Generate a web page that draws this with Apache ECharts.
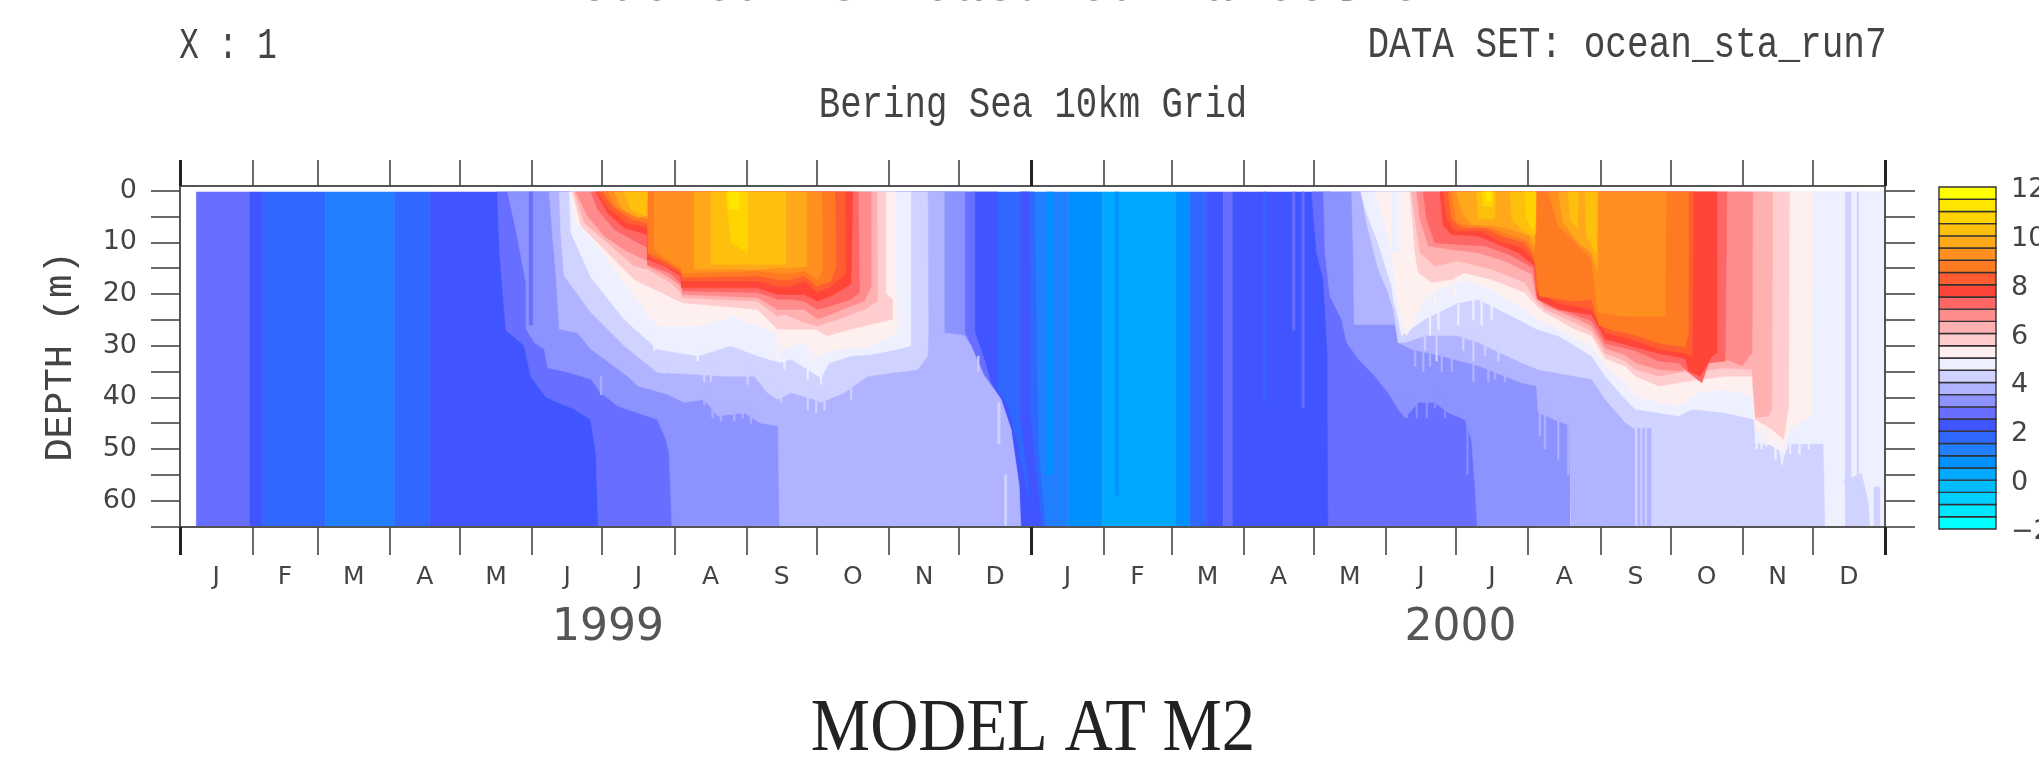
<!DOCTYPE html>
<html><head><meta charset="utf-8">
<style>html,body{margin:0;padding:0;background:#fff}#c{width:2039px;height:762px}</style>
<script src="https://cdn.jsdelivr.net/npm/echarts@6/dist/echarts.min.js"></script>
</head><body><div id="c"></div>
<script>
// x = day counted from 1 Jan 1999, y = depth (m), values = lower bound of the 0.5 degree colour bin
const monthLetters = ['J','F','M','A','M','J','J','A','S','O','N','D','J','F','M','A','M','J','J','A','S','O','N','D'];
const monthStarts = [0,31,59,90,120,151,181,212,243,273,304,334,365,396,425,456,486,517,547,578,609,639,670,700,731];
const yearLabels = ['1999','2000'];
const yearCentres = [183.5,549];
const yearTicks = [0,365,731];
const depthTicks = [0,5,10,15,20,25,30,35,40,45,50,55,60,65];
const depthLabels = [0,10,20,30,40,50,60];
const legendLevels = [-2,-1.5,-1,-.5,0,.5,1,1.5,2,2.5,3,3.5,4,4.5,5,5.5,6,6.5,7,7.5,8,8.5,9,9.5,10,10.5,11,11.5];
const legendTicks = [-2,0,2,4,6,8,10,12];
const legendColors = ['#00ffff','#00e8ff','#00d0ff','#00bcff','#00a8ff','#0090ff','#2080ff','#3068ff','#4055ff','#686eff','#8c93ff','#b0b3ff','#d0d2ff','#eef0ff','#fff0f0','#ffcdcd','#ffb0b0','#ff8c8c','#ff6666','#ff4438','#ff5c30','#ff7b22','#ff9020','#ffa91a','#ffbf0d','#ffd400','#ffe600','#ffff00'];

// full-depth bands: temperature, first day, last day
const fullBands = [[2.5,7,30],[2,30,35.5],[1.5,35.5,62.5],[1,62.5,92],[1.5,92,107],
 [1,360,381],[.5,381,395.4],[0,395.4,426.8],[.5,426.8,432.9],[1.5,432.9,440.1],[2,440.1,447.4],[2.5,447.4,451.3]];

// regions hanging from the surface: temperature, then day,depth pairs of the lower edge
const layers1999 = [
 [1.5,[340,65.2,371,65.2,368,50,366.3,0]],
 [2,[107,65.2,366.3,65.2,363.4,58.5,359.1,49.4,354.8,41.7,350.5,38.5,350.5,0]],
 [2,[360.5,0,360.5,44,366,65.2,369.5,65.2,364.5,44,364,0]],
 [2.5,[136,0,137,12,139.7,27,147.6,30,150.4,36,156.9,40,169,42.3,176,44.3,178.3,50.7,179.3,65.2,360.5,65.2,359.8,57.2,356.3,46.2,352,40.4,347.7,37.2,344.8,32.6,340.8,27.5,340.8,0]],
 [3,[140.4,0,144,7.5,148.3,17.8,148.3,26.8,151.9,29.4,156.2,30.7,157.6,34.3,166.9,35.2,176.2,36.5,180.4,39.1,187.6,41.7,204.7,44.3,208.3,48.1,209.7,50.7,210.9,65.2,360,65.2,359.5,57,356,46,351.5,40,344.5,35.5,339.1,30,336.5,27.5,336.5,0]],
 [2.5,[149.7,0,149.7,26,151.2,26,151.2,0]],
 [3.5,[158.3,0,159.7,8.8,161.2,16.5,162.6,26.8,170.4,27.5,176.2,30.7,181.9,32.6,191.9,35.9,196.2,37.8,209,39.4,216.2,41,224.7,40.4,230.4,43.6,241.9,43,249,45,256.4,45.5,257,65.2,360.5,65.2,359.8,57.2,356.3,46.2,352,40.4,344.8,35.9,339.1,30,336.3,28.1,327.7,27.5,327.7,0]],
 [4,[162.6,0,163.3,8.7,164.7,16.5,176.2,23.6,190.4,30,204.7,35.2,219,35.5,233.3,35.9,246.2,35.9,251.9,39.1,256.2,40.4,262,39.1,272,40.4,274.8,41,284.8,39.1,294.8,35.9,306.3,35.2,316.3,34.6,320.6,32,320.8,27.5,320.6,0]],
 [4.5,[166.9,0,167.6,8.1,176.2,16.8,190.4,24.9,204.7,30.7,221.9,32,236.2,30,247.6,32,257.6,33.3,262,32.6,269.1,34.6,274.8,36.2,278.4,33.3,287.7,32,296.3,31.7,307.7,30.7,313.4,30,313.4,0]],
 [5,[167.6,0,169,5.5,179,10.7,190.4,17.8,204.7,26.2,221.9,26.2,237.6,24.3,254.7,27.5,257.7,30.7,267.7,29.4,273.4,32,282,30.7,296.3,30,307.4,27.5,306.5,0]],
 [5.5,[168.3,0,171.9,6.8,183.3,12,194.7,17.2,203.3,19.1,215.4,21.7,247.6,23,256.2,26.8,262,26.8,272,26.8,277.7,28.1,287.7,26.8,293.4,26.2,305.5,24.9,305.5,21,302.7,20,302.7,0]],
 [6,[169,0,173.3,6.2,183.3,10.1,194.7,14.6,200.4,15.2,210.4,17.8,214.7,19.7,215.4,20.7,247.6,21.4,256.2,24.3,259.1,23.9,267.7,25.5,273.4,26.2,282,24.9,293.4,23,299.1,21.4,298.8,0]],
 [6.5,[169.7,0,174.7,4.9,181.9,8.8,190.4,11.4,200.4,13.6,200.4,14.6,209,16.5,215,18.5,215.4,20.1,247.6,20.7,256.3,23,262,23,267.7,23,273.4,24.9,279.1,23.9,287.7,22.3,293.4,21.4,296.3,18.5,296.3,0]],
 [7,[176.2,0,179,3.6,186.2,7.5,194.7,9.7,200.4,11,200.4,14.3,210.4,16,215,18.1,215.4,19.4,247.6,19.7,256.3,21,262,21,267.7,21.4,273.4,23,279.1,22.3,287.7,21,291.3,19.7,290.8,0]],
 [7.5,[178.3,0,183.3,4.3,190.4,7.2,200.4,8.5,200.4,13.3,207.6,14.6,214.7,16.5,215,18.8,247.6,18.8,256.3,20.1,262,20.1,267.7,20.1,273.4,21.4,279.1,20.4,287.7,18.1,288.4,0]],
 [8,[179,0,184,3.6,191.2,6.2,200.4,7.2,200.4,12.6,207.6,14.3,214.7,16,215.4,17.5,247.6,17.5,256.2,18.5,262,18.5,267.7,17.5,273.4,19.7,279.1,18.5,285.5,16.2,285.1,0]],
 [8.5,[181.2,0,185.4,3,193.3,5.5,200.4,6.3,200.4,0]],
 [8.5,[200.4,0,200.7,12,207.6,13.6,214.7,15.5,215.4,16.8,247.6,16.5,256.3,17.2,262,17.2,267.7,16.5,273.4,18.5,279.1,17.5,281.3,14.6,280.8,0]],
 [9,[183.3,0,186.9,3,193.3,4.6,200.4,5.5,200.4,0]],
 [9,[203.3,0,203.3,11.4,207.6,13,214.7,14.9,215.4,16,247.6,15.5,256.2,15.9,262,16,267.7,15.5,273.4,17.2,275.5,15.2,275.1,0]],
 [9.5,[186.2,0,189.7,3.6,196.2,5.2,200.4,4.9,200.4,0]],
 [9.5,[220.4,0,220.4,15.2,247.6,15.2,256.3,14.9,262,14.9,268.8,14.6,268.8,0]],
 [10,[190.4,0,193.3,3.6,199.7,4.9,200.4,0]],
 [10,[227.6,0,227.6,14.3,253.4,14.3,259.8,14.3,259.8,0]],
 [10.5,[234,0,236.2,10,243.3,12,243.3,0]],
 [11,[235,0,235.5,3.6,239.7,3.6,239.7,0]]
];
const layers2000 = [
 [2,[451.3,65.2,493,65.2,493,0]],
 [2.5,[485.2,0,487.3,12,490.2,17.2,492,31.4,492.3,65.2,556.2,65.2,556.2,0]],
 [3,[490.2,0,490.9,12,493,20.4,498,24.9,500.2,29.4,505.2,32.6,512.3,35.9,518,39.1,522.3,42.3,525.2,43.9,530.9,41,538,41,543.7,43,550.9,44.3,553.7,48.1,555.2,57.2,556.2,65.2,596,65.2,596,0]],
 [3.5,[502.3,0,503,12,503.4,25.9,520.9,25.9,522.3,29.4,528,30.7,540.9,32,556.6,33.9,575.2,37.2,581.6,37.8,582.3,43,595.9,45.5,596.3,65.2,624,65.2,624,0]],
 [4,[506.3,0,508.7,6.2,513.7,15.2,518,19.7,520.2,23,522.3,29.4,525.2,29.4,533.7,28.1,548,28.1,556.6,29.4,575.2,33.3,582.3,34.6,605.2,36.5,611.1,40.4,619.7,44.9,624,46.2,624,65.2,731,65.2,731,0]],
 [4.5,[506.3,0,508.7,4.3,513.7,10.1,519.5,18.5,520.2,21,522.3,24.9,523.7,28.1,533.7,24.9,548,21.7,556.6,21,568,23.6,581.6,26.8,590.9,28.1,605.2,32,611.1,35.9,619.7,40.4,624,42.3,634,43,642.5,43.6,648.3,42.3,662.5,43,675,44.3,675.4,48.8,685.4,49.4,686.8,52.6,689.7,49,704.7,49,705.4,65.2,715.4,65.2,714.7,60.4,713.3,55.9,718.3,55.2,721.1,54.6,724,60.4,724.7,65.2,726.1,65.2,726.1,57.2,729,57.2,729,65.2,731,65.2,731,0]],
 [5,[512.3,0,518,8.8,520.2,13.9,520.9,18.5,522.3,21.6,524.5,26.2,525.9,28.1,533.7,21,539.5,19.1,550.9,17.2,562.3,19.1,576.6,23,581.6,24.9,590.9,26.8,605.2,30.1,611.1,34,619.7,37.2,624,39.7,634,41,642.5,41.7,651.1,39.1,662.5,38.5,674,39.7,675.4,46.2,682.5,49.4,687.5,50.7,689.7,46.2,699.7,43.6,700,0]],
 [5.5,[527.3,0,528.7,7.5,529.5,12,530.9,15.9,536.6,17.8,545.2,17.2,550.9,15.9,562.3,17.2,576.6,19.7,581.6,22.3,585.2,23.6,598,26.8,605.2,28.1,611.1,32.5,619.7,34,624,35.9,634,37.8,642.5,37.2,652.5,36.5,662.5,35.9,674,35.9,675.4,44.3,682.5,46.2,687.5,48.1,689.7,41.7,690,0]],
 [6,[528,0,529.5,5.5,531.6,12,538,14.6,548,13.6,562.3,15.2,576.6,17.8,581.6,21.4,585.2,23,598,25.5,605.2,27.2,611.1,31.5,619.7,33,624,34.6,634,35.9,642.5,35.2,652.5,34.9,662.5,34.3,674,34.6,675.4,43.9,681.1,43.6,682.5,42.3,682.8,0]],
 [6.5,[530.2,0,531.6,5.5,535.2,10.7,545.2,11.4,556.6,12,568,13.6,579.5,16.2,581.6,20.7,585.2,22.3,598,24.6,605.2,26.2,611.1,30.5,619.7,31.8,624,33.3,634,34.6,642.5,34.9,651.1,33.9,662.5,32.6,669.7,33.9,674,31.4,674.3,0]],
 [7,[533,0,534.5,5.5,538,10.1,548,10.4,559.5,10.7,569.5,12.3,580.2,14.9,581.6,20.4,585.2,21.7,598,24,605.2,25.2,611.1,29.6,619.7,30.5,624,31,634,33,642.5,33.3,646.8,35.2,652.5,37.2,655.4,33.3,662.5,33,663.2,0]],
 [7.5,[540.2,0,541.6,6.8,545.2,8.5,556.6,8.8,565.2,10.4,573.7,12,580.9,14.6,582,21,590.9,23,605.2,24,611.1,28.7,619.7,29.8,624,30.3,634,31.5,645.4,32.5,646.8,34.9,651.8,35.9,656.8,32,659,31.4,659,0]],
 [8,[541.6,0,543,5.5,546.6,7.8,558,7.8,565.2,9.7,575.2,11,580.6,13.6,581.6,19.7,590.9,21.7,605.2,23,611.1,27.5,619.7,28.5,624,29,634,30.7,645.4,31.5,648.3,32,649,0]],
 [8.5,[543.7,0,545.2,5.5,549.5,7.2,559.5,7.2,566.6,8.8,576.6,10.1,580.2,12.6,581.3,14.6,582,18.5,583,20.4,598,21.4,605.2,21,608.3,26,614,27,619.7,27.5,624,28,634,29.5,645.4,30.3,646.8,27.5,646.8,0]],
 [9,[545.2,0,547.3,6.2,552.3,6.8,562.3,7.2,569.5,8.5,578,9.7,580.6,12,581.3,0]],
 [9.5,[547.3,0,549.5,4.3,553.7,6.5,563.7,6.8,570.9,7.5,578.7,8.8,580.9,10.7,581.3,0]],
 [10,[555.9,0,556.6,5.5,563.7,5.5,564,0]],
 [10,[570.2,0,570.9,5.5,575.2,7.5,580.2,8.8,581.3,8.2,581.3,0]],
 [10.5,[558,0,558.7,3,563,3,563,0]],
 [10.5,[576.6,0,577.3,5.5,580.2,7.8,581.2,5.5,581.3,0]],
 [11,[559.5,0,560.2,2,562,2,562.3,0]],
 [9,[586.6,0,590.9,6.8,599.5,10.7,605.2,13.3,607.3,21.7,608,23.5,619.7,24.3,636.8,24.3,637.1,0]],
 [9.5,[590.9,0,593,6.2,599.5,10.1,605.2,12,607.7,15.9,607.7,0]],
 [10,[595.2,0,595.9,5.5,599.2,7.5,599.5,0]],
 [10,[602.3,0,603,8.8,605.2,10.7,607.5,12.6,607.7,0]]
];
// narrow streaks: temperature, first day, last day, top depth, bottom depth
const streaks = [[.5,371.6,374.5,0,55],[.5,401,402.4,0,59],[1.5,464.5,465.5,0,41],[2.5,477,478,0,27],[2.5,481,482,0,42],
 [4.5,519.5,522.3,0,12],[4,714,716.5,0,65],[4,719,719.7,0,58],[3.5,625,626,46,65],[3.5,627,628,46,65],[3.5,629,630.7,46,65],
 [4,342,342.6,32,35],[4,350.6,351.6,41,49],[4,353.5,354.5,55,65],
 // 2000, edge of the warm water
 [3.5,529.2,529.9,30,34],[3.5,532.7,533.4,31,35],[3.5,535.6,536.3,31,34],[3.5,540.6,541.3,32,35],[3.5,544.9,545.6,32,35],
 [3.5,554.2,554.9,33,37],[3.5,560.6,561.3,34,37],[3.5,563.4,564.1,34,36.5],[3.5,567.7,568.4,35,37],
 [3,525.6,526.3,40,44],[3,529.9,530.6,41,44],[3,534.2,534.9,41,44],[3,537.7,538.4,38,42],[3,542,542.7,40,44],[3,551.7,552.3,44,55],
 [3.5,582.7,583.4,43,47.5],[3.5,584.9,585.6,41,50],[3.5,590.6,591.3,44,52],[3.5,594.9,595.6,45,55],
 [4,533.4,534.1,28,31],[4,538.4,539.1,28,33],[4,549.9,550.6,28,31],[4,554.2,554.9,28,33],[4,559.2,559.9,29,32],[4,564.9,565.6,30,33],
 [4.5,535.6,536.3,24,28],[4.5,539.2,539.9,23,27],[4.5,547.7,548.4,22,26],[4.5,554.2,554.9,21,25],[4.5,557.7,558.4,21,26],[4.5,562,562.7,22,25],
 [5,537.7,538.4,20,23],[5,546.3,547,18,21],
 // 1999, edge of the warm water
 [3.5,180.2,180.9,36,39.5],[3.5,224.4,225.1,39,41.5],[3.5,228,228.7,41,44],[3.5,231.6,232.3,42,44.5],[3.5,237.3,238,41,44.5],[3.5,240.9,241.6,41,44],[3.5,244.4,245.1,42,45],
 [4,203,203.7,31,34],[4,207.3,208,33,35.5],[4,224.4,225.1,34,37],[4,227.3,228,34,37],[4,243,243.7,34,37.5],[4,251.6,252.3,36,39],
 [4.5,203,203.7,28,31],[4.5,221.6,222.3,30,33],
 [4,257.4,258.1,38,41],[4,268.8,269.5,39,42.5],[4,272.4,273.1,40,43],[4,276,276.7,38,42.5],[4,287.4,288.1,37,40.5],
 [4.5,258.8,259.5,32,34.5],[4.5,268.8,269.5,33,36.5],[4.5,274.5,275.2,35,37.5],[5,256,256.7,30,32.5],[5,270.2,270.9,31,33.5],
 // autumn 2000, below the warm water
 [4.5,675.6,676.3,46,50],[4.5,677.7,678.4,46,50],[4.5,679.7,680.4,46,49.5],[4.5,683.7,684.4,48,52],[4.5,686.5,687.2,49,53],
 [4.5,690,690.7,49,51],[4.5,694,694.7,48,51],[4.5,698,698.7,48,50]];

const colorOf = t => legendColors[Math.round((t+2)*2)];
const SURFACE = 0.25, BOTTOM = 65.2;
const shapes = [];
fullBands.forEach(b => shapes.push([b[0],[b[1],BOTTOM,b[2],BOTTOM]]));
layers1999.forEach(l => shapes.push(l));
layers2000.forEach(l => shapes.push(l));
streaks.forEach(s => shapes.push([s[0],[s[1],Math.max(s[3],SURFACE),s[1],s[4],s[2],s[4],s[2],Math.max(s[3],SURFACE)],true]));

const LABEL = '#444', AXIS = '#555';
const mono = 'Liberation Mono', sans = 'DejaVu Sans';
const monthMids = monthLetters.map((_, i) => (monthStarts[i]+monthStarts[i+1])/2);

function txt(text, x, y, size, family, sx, sy, fill, weight) {
  return {type:'text', x, y, scaleX:sx, scaleY:sy, silent:true,
    style:{text, font:`${weight||'normal'} ${size}px "${family}"`, fill:fill||LABEL, align:'center', verticalAlign:'middle'}};
}
const GL=180, GR=2039-1885, GT=186, GH=341;
const chart = echarts.init(document.getElementById('c'), null, {renderer:'canvas'});
chart.setOption({
  animation:false, backgroundColor:'#fff',
  grid:[{left:GL,right:GR,top:GT,height:GH},{left:GL,right:GR,top:GT,height:GH},{left:1939,width:57,top:187,height:342}],
  xAxis:[
   {gridIndex:0,type:'value',position:'bottom',min:0,max:731,z:5,splitLine:{show:false},
    axisLine:{onZero:false,lineStyle:{color:AXIS,width:2}},
    axisTick:{customValues:monthStarts,length:28,lineStyle:{color:'#444',width:1.6}},
    axisLabel:{customValues:monthMids,formatter:(v)=>monthLetters[monthMids.indexOf(v)],color:LABEL,fontFamily:sans,fontSize:25,margin:38,hideOverlap:false}},
   {gridIndex:0,type:'value',position:'top',min:0,max:731,z:5,splitLine:{show:false},
    axisLine:{onZero:false,lineStyle:{color:AXIS,width:2}},
    axisTick:{customValues:monthStarts,length:26,lineStyle:{color:'#444',width:1.6}},axisLabel:{show:false}},
   {gridIndex:1,type:'value',position:'bottom',min:0,max:731,z:5,splitLine:{show:false},axisLine:{show:false,onZero:false},
    axisTick:{customValues:yearTicks,length:28,lineStyle:{color:'#222',width:3}},
    axisLabel:{customValues:yearCentres,formatter:(v)=>yearLabels[yearCentres.indexOf(v)],color:'#555',fontFamily:sans,fontSize:44,margin:80,hideOverlap:false}},
   {gridIndex:1,type:'value',position:'top',min:0,max:731,z:5,splitLine:{show:false},axisLine:{show:false,onZero:false},
    axisTick:{customValues:yearTicks,length:26,lineStyle:{color:'#222',width:3}},axisLabel:{show:false}},
   {gridIndex:2,type:'value',min:0,max:1,show:false}
  ],
  yAxis:[
   {gridIndex:0,type:'value',position:'left',inverse:true,min:-0.9,max:65.1,z:5,splitLine:{show:false},
    axisLine:{onZero:false,lineStyle:{color:AXIS,width:2}},
    axisTick:{customValues:depthTicks,length:29,lineStyle:{color:'#444',width:1.6}},
    axisLabel:{customValues:depthLabels,color:LABEL,fontFamily:sans,fontSize:27,margin:43,hideOverlap:false},
    name:'DEPTH (m)',nameLocation:'middle',nameGap:100,nameRotate:90,
    nameTextStyle:{color:LABEL,fontFamily:mono,fontSize:39}},
   {gridIndex:0,type:'value',position:'right',inverse:true,min:-0.9,max:65.1,z:5,splitLine:{show:false},
    axisLine:{onZero:false,lineStyle:{color:AXIS,width:2}},
    axisTick:{customValues:depthTicks,length:30,lineStyle:{color:'#444',width:1.6}},axisLabel:{show:false}},
   {gridIndex:1,type:'value',inverse:true,min:-0.9,max:65.1,show:false},
   {gridIndex:2,type:'value',position:'right',min:-2,max:12,interval:2,show:false}
  ],
  series:[
   {type:'custom',xAxisIndex:0,yAxisIndex:0,silent:true,clip:true,z:1,
    data:shapes.map((s,i)=>[i]),encode:{x:-1,y:-1},
    renderItem:(p,api)=>{
      const s=shapes[api.value(0)], f=s[1], pts=[];
      if(!s[2]) pts.push(api.coord([f[0],SURFACE]));
      for(let i=0;i<f.length;i+=2) pts.push(api.coord([f[i],s[2]?f[i+1]:Math.max(f[i+1],SURFACE)]));
      if(!s[2]) pts.push(api.coord([f[f.length-2],SURFACE]));
      const c=colorOf(s[0]);
      return {type:'polygon',shape:{points:pts},style:{fill:c,stroke:c,lineWidth:0.5}};
    }},
   {type:'custom',xAxisIndex:4,yAxisIndex:3,silent:true,z:2,
    data:legendLevels.map(v=>[v]),encode:{y:0},
    renderItem:(p,api)=>{
      const v=api.value(0), a=api.coord([0,v+.5]), b=api.coord([1,v]);
      return {type:'rect',shape:{x:a[0],y:a[1],width:b[0]-a[0],height:b[1]-a[1]},
        style:{fill:colorOf(v),stroke:'#333',lineWidth:1.4}};
    }},
   {type:'custom',xAxisIndex:4,yAxisIndex:3,silent:true,z:2,clip:false,
    data:legendTicks.map(v=>[v]),encode:{y:0},
    renderItem:(p,api)=>{
      const v=api.value(0), a=api.coord([1,v]);
      return {type:'text',x:a[0]+15,y:a[1]+3,
        style:{text:String(v).replace('-','\u2212'),fill:LABEL,font:'27px "DejaVu Sans"',align:'left',verticalAlign:'middle'}};
    }}
  ],
  graphic:[
   txt('Modeled vs Measured Paleotherm. M2',1078,-13,52,mono,1,1,'#222','bold'),
   txt('X : 1',228,46,35,mono,0.93,1.25),
   txt('DATA SET: ocean_sta_run7',1627,45,35,mono,1.03,1.25),
   txt('Bering Sea 10km Grid',1033,105,35,mono,1.02,1.25),
   txt('MODEL AT M2',1033,730,68,'Liberation Serif',0.98,1.1,'#222')
  ]
});
</script></body></html>
